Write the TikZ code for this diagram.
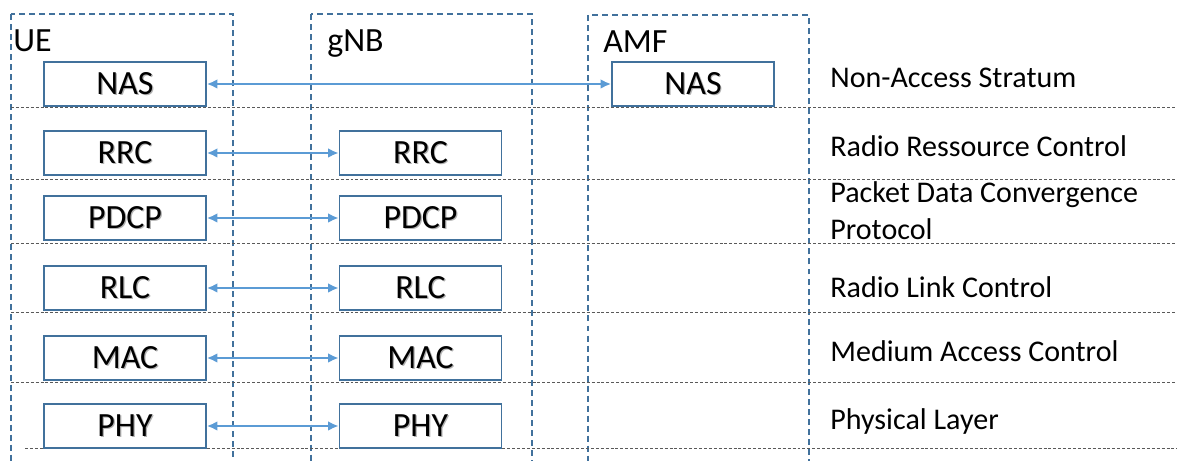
\documentclass[tikz,border=0pt]{standalone}
\usepackage{fontspec}
\setmainfont{Carlito}
\usetikzlibrary{positioning}
\usetikzlibrary{arrows.meta}
\definecolor{boxblue}{HTML}{41719C}
\definecolor{arrowblue}{HTML}{5B9BD5}
\providecommand*{\shadowed}[1]{%
    \makebox[0pt][l]{\kern0.7pt\raisebox{-0.7pt}{\textcolor{black!30}{#1}}}#1%
}

\begin{document}
\begin{tikzpicture}[
    layerbox/.style = {rectangle, draw = boxblue, line width = 0.9pt, fill = white,
        minimum width = 3.24cm, minimum height = 0.88cm, inner sep = 0pt,
        font = \fontsize{19.3}{22}\selectfont},
    column/.style = {draw = boxblue, line width = 0.75pt, dash pattern = on 3.4pt off 2.3pt},
    layersep/.style = {draw = black!65, line width = 0.55pt, dash pattern = on 1.7pt off 1.1pt},
    peer/.style = {arrowblue, line width = 1.3pt,
        {Latex[length=6pt,width=5.5pt]}-{Latex[length=6pt,width=5.5pt]}},
    title/.style = {anchor = base west, inner sep = 0pt, font = \fontsize{19.3}{22}\selectfont},
    layername/.style = {anchor = base west, inner sep = 0pt, align = left,
        font = \fontsize{17.1}{21}\selectfont}
]
    \useasboundingbox[clip] (0,0) rectangle (23.54,-9.22);

    % entity columns
    \draw[column] (0.22,-0.28) rectangle (4.66,-9.8);
    \draw[column] (6.22,-0.28) rectangle (10.64,-9.8);
    \draw[column] (11.76,-0.30) rectangle (16.18,-9.8);

    \node (ueTitle)  [title] at (0.26,-1.04) {UE};
    \node (gnbTitle) [title] at (6.54,-1.04) {gNB};
    \node (amfTitle) [title] at (12.06,-1.06) {AMF};

    % layer separators
    \draw[layersep] (0.22,-2.14) -- (23.54,-2.14);
    \draw[layersep] (0.22,-3.58) -- (23.54,-3.58);
    \draw[layersep] (0.22,-4.86) -- (23.54,-4.86);
    \draw[layersep] (0.22,-6.24) -- (23.54,-6.24);
    \draw[layersep] (0.22,-7.64) -- (23.54,-7.64);
    \draw[layersep] (0.50,-8.96) -- (23.54,-8.96);

    \begin{scope}[on grid]

        % UE stack
        \node (UEnas) at (2.5,-1.68) [layerbox] {\shadowed{NAS}};
        \node (UErrc)  [layerbox, below=1.38 of UEnas]  {\shadowed{RRC}};
        \node (UEpdcp) [layerbox, below=1.30 of UErrc]  {\shadowed{PDCP}};
        \node (UErlc)  [layerbox, below=1.40 of UEpdcp] {\shadowed{RLC}};
        \node (UEmac)  [layerbox, below=1.40 of UErlc]  {\shadowed{MAC}};
        \node (UEphy)  [layerbox, below=1.36 of UEmac]  {\shadowed{PHY}};

        % gNB stack
        \node (GNBrrc)  [layerbox, right=5.91 of UErrc]  {\shadowed{RRC}};
        \node (GNBpdcp) [layerbox, right=5.91 of UEpdcp] {\shadowed{PDCP}};
        \node (GNBrlc)  [layerbox, right=5.91 of UErlc]  {\shadowed{RLC}};
        \node (GNBmac)  [layerbox, right=5.91 of UEmac]  {\shadowed{MAC}};
        \node (GNBphy)  [layerbox, right=5.91 of UEphy]  {\shadowed{PHY}};

        % AMF
        \node (AMFnas) [layerbox, right=11.36 of UEnas] {\shadowed{NAS}};

    \end{scope}

    \draw[peer] (UEnas) -- (AMFnas);
    \draw[peer] (UErrc) -- (GNBrrc);
    \draw[peer] (UEpdcp) -- (GNBpdcp);
    \draw[peer] (UErlc) -- (GNBrlc);
    \draw[peer] (UEmac) -- (GNBmac);
    \draw[peer] (UEphy) -- (GNBphy);

    % layer names
    \node (nasName)  [layername] at (16.6,-1.76) {Non-Access Stratum};
    \node (rrcName)  [layername] at (16.6,-3.14) {Radio Ressource Control};
    \node (pdcpName) [layername, anchor = west] at (16.6,-4.22) {Packet Data Convergence\\Protocol};
    \node (rlcName)  [layername] at (16.6,-5.96) {Radio Link Control};
    \node (macName)  [layername] at (16.6,-7.24) {Medium Access Control};
    \node (phyName)  [layername] at (16.6,-8.60) {Physical Layer};

\end{tikzpicture}
\end{document}
